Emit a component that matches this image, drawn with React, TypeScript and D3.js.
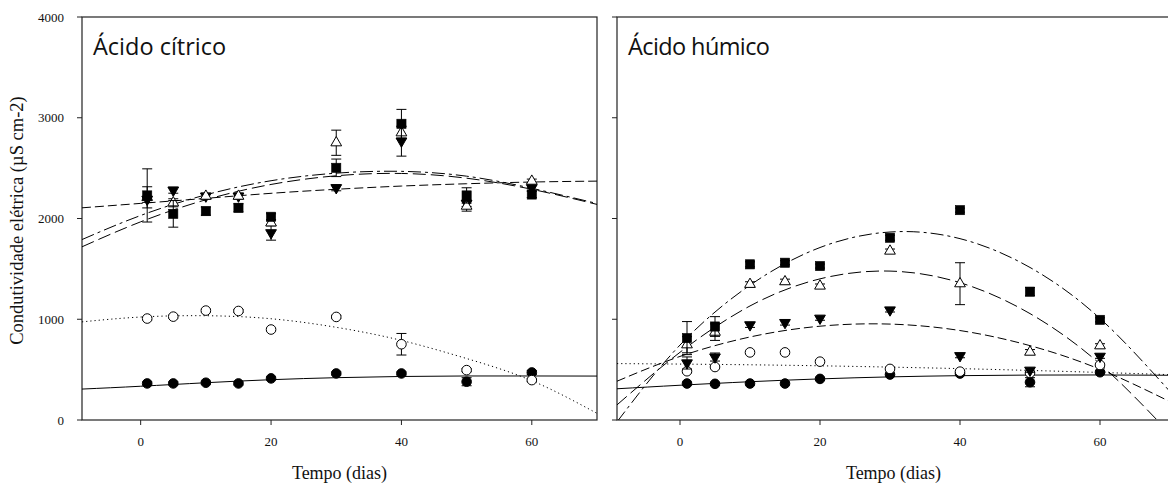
import React from 'react';
import * as d3 from 'd3';

// ---------- data ----------
const days = [1, 5, 10, 15, 20, 30, 40, 50, 60];
const xTicks = [0, 20, 40, 60];
const yTicks = [0, 1000, 2000, 3000, 4000];
const fitDays = [-9, 0, 10, 20, 30, 40, 50, 60, 70];

// Ácido cítrico
const citFilledCircle = [363, 363, 370, 363, 413, 462, 462, 380, 472];
const citFilledCircleErr = [15, 15, 15, 15, 15, 15, 15, 40, 20];
const citOpenCircle = [1007, 1026, 1086, 1082, 898, 1023, 752, 495, 396];
const citOpenCircleErr = [15, 15, 15, 15, 15, 15, 107, 15, 15];
const citTriDown = [2190, 2281, 2222, 2222, 1858, 2305, 2768, 2150, 2305];
const citTriDownErr = [30, 30, 25, 25, 73, 30, 149, 30, 25];
const citTriUp = [2210, 2156, 2222, 2222, 1957, 2752, 2851, 2123, 2371];
const citTriUpErr = [105, 40, 30, 30, 30, 125, 60, 50, 20];
const citSquare = [2229, 2046, 2073, 2106, 2017, 2503, 2940, 2229, 2238];
const citSquareErr = [264, 132, 40, 40, 30, 87, 143, 76, 30];

const citFitFilledCircle = [307, 335, 370, 400, 420, 432, 437, 437, 436];
const citFitOpenCircle = [974, 1022, 1035, 1005, 920, 790, 610, 390, 66];
const citFitTriDown = [2106, 2150, 2200, 2250, 2290, 2322, 2345, 2362, 2371];
const citFitTriUp = [1719, 1967, 2186, 2338, 2424, 2447, 2400, 2290, 2140];
const citFitSquare = [1791, 2030, 2235, 2375, 2450, 2468, 2420, 2300, 2149];

// Ácido húmico
const humFilledCircle = [362, 359, 362, 362, 408, 451, 461, 375, 474];
const humFilledCircleErr = [15, 15, 15, 15, 15, 15, 15, 45, 15];
const humOpenCircle = [484, 526, 671, 671, 579, 507, 480, 467, 546];
const humOpenCircleErr = [15, 15, 15, 15, 15, 15, 15, 15, 15];
const humTriDown = [566, 625, 944, 967, 1010, 1092, 638, 494, 632];
const humTriDownErr = [60, 40, 25, 25, 20, 20, 20, 20, 20];
const humTriUp = [747, 872, 1347, 1373, 1330, 1677, 1353, 674, 737];
const humTriUpErr = [80, 82, 25, 25, 20, 20, 208, 25, 20];
const humSquare = [813, 928, 1545, 1561, 1528, 1809, 2083, 1274, 994];
const humSquareErr = [164, 98, 25, 20, 20, 25, 20, 40, 20];

const humFitFilledCircle = [310, 345, 380, 408, 428, 440, 446, 447, 444];
const humFitOpenCircle = [560, 555, 548, 538, 525, 510, 492, 472, 450];
const humFitTriDown = [385, 631, 824, 931, 952, 888, 738, 503, 182];
const humFitTriUp = [150, 672, 1132, 1401, 1478, 1363, 1056, 556, -135];
const humFitSquare = [-19, 744, 1338, 1712, 1866, 1800, 1514, 1008, 282];

// ---------- layout / style ----------
const W = 1168;
const H = 491;
const TOP = 17;
const BOTTOM = 420;

type Marker = 'filledCircle' | 'openCircle' | 'triDown' | 'triUp' | 'square';

const DASH: Record<Marker, string> = {
  filledCircle: '',
  openCircle: '1.2,3',
  triDown: '9,4',
  triUp: '13,5',
  square: '13,4,3,4',
};

function buildSeries(vals: number[][], errs: number[][], fits: number[][]) {
  const markers: Marker[] = ['filledCircle', 'openCircle', 'triDown', 'triUp', 'square'];
  return markers.map((m, i) => ({ marker: m, values: vals[i], errs: errs[i], fit: fits[i] }));
}

const panels = [
  {
    title: 'Ácido cítrico',
    x0: 82,
    x1: 597,
    yLabels: true,
    series: buildSeries(
      [citFilledCircle, citOpenCircle, citTriDown, citTriUp, citSquare],
      [citFilledCircleErr, citOpenCircleErr, citTriDownErr, citTriUpErr, citSquareErr],
      [citFitFilledCircle, citFitOpenCircle, citFitTriDown, citFitTriUp, citFitSquare]
    ),
  },
  {
    title: 'Ácido húmico',
    x0: 617,
    x1: 1170,
    yLabels: false,
    series: buildSeries(
      [humFilledCircle, humOpenCircle, humTriDown, humTriUp, humSquare],
      [humFilledCircleErr, humOpenCircleErr, humTriDownErr, humTriUpErr, humSquareErr],
      [humFitFilledCircle, humFitOpenCircle, humFitTriDown, humFitTriUp, humFitSquare]
    ),
  },
];

const serif = '"Liberation Serif", "Times New Roman", serif';
const sans = '"Open Sans", "Noto Sans", sans-serif';

function MarkerShape({ m, cx, cy }: { m: Marker; cx: number; cy: number }) {
  if (m === 'filledCircle' || m === 'openCircle') {
    return (
      <circle cx={cx} cy={cy} r={4.8} fill={m === 'filledCircle' ? '#000' : '#fff'} stroke="#000" strokeWidth={1} />
    );
  }
  if (m === 'square') {
    return <rect x={cx - 4.6} y={cy - 4.6} width={9.2} height={9.2} fill="#000" stroke="#000" strokeWidth={0.6} />;
  }
  const path = d3.symbol().type(d3.symbolTriangle).size(50)() as string;
  const rot = m === 'triDown' ? 180 : 0;
  return (
    <path
      d={path}
      transform={`translate(${cx},${cy}) rotate(${rot})`}
      fill={m === 'triDown' ? '#000' : '#fff'}
      stroke="#000"
      strokeWidth={1}
    />
  );
}

function Panel({ p, idx }: { p: (typeof panels)[number]; idx: number }) {
  const x = d3.scaleLinear().domain([-9, 70]).range([p.x0, p.x1]);
  const y = d3.scaleLinear().domain([0, 4000]).range([BOTTOM, TOP]);
  const line = d3
    .line<[number, number]>()
    .x((d) => x(d[0]))
    .y((d) => y(d[1]))
    .curve(d3.curveNatural);
  const clipId = `clip${idx}`;
  return (
    <g>
      <defs>
        <clipPath id={clipId}>
          <rect x={p.x0} y={TOP} width={p.x1 - p.x0} height={BOTTOM - TOP} />
        </clipPath>
      </defs>
      {/* frame */}
      <rect x={p.x0} y={TOP} width={p.x1 - p.x0} height={BOTTOM - TOP} fill="none" stroke="#222" strokeWidth={1.2} />
      {/* y ticks */}
      {yTicks.map((t) => (
        <g key={'y' + t}>
          <line x1={p.x0 - 5} x2={p.x0} y1={y(t)} y2={y(t)} stroke="#222" strokeWidth={1} />
          {p.yLabels && (
            <text x={p.x0 - 18} y={y(t) + 4.5} textAnchor="end" fontFamily={serif} fontSize={13} fill="#111">
              {t}
            </text>
          )}
        </g>
      ))}
      {/* x ticks */}
      {xTicks.map((t) => (
        <g key={'x' + t}>
          <line x1={x(t)} x2={x(t)} y1={BOTTOM} y2={BOTTOM + 5} stroke="#222" strokeWidth={1} />
          <text x={x(t)} y={446} textAnchor="middle" fontFamily={serif} fontSize={13} fill="#111">
            {t}
          </text>
        </g>
      ))}
      <text x={(p.x0 + p.x1) / 2} y={479} textAnchor="middle" fontFamily={serif} fontSize={18} fill="#111">
        Tempo (dias)
      </text>
      <text
        x={p.x0 + 11}
        y={55}
        fontFamily={sans}
        fontSize={23.5}
        letterSpacing={idx === 1 ? -0.6 : 0}
        fill="#111"
      >
        {p.title}
      </text>
      {/* fitted curves */}
      <g clipPath={`url(#${clipId})`}>
        {p.series.map((s) => (
          <path
            key={'f' + s.marker}
            d={line(fitDays.map((d, i) => [d, s.fit[i]] as [number, number])) as string}
            fill="none"
            stroke="#000"
            strokeWidth={1}
            strokeDasharray={DASH[s.marker]}
          />
        ))}
      </g>
      {/* error bars and markers */}
      {p.series.map((s) => (
        <g key={'s' + s.marker}>
          {days.map((d, i) => {
            const cx = x(d);
            const yt = y(s.values[i] + s.errs[i]);
            const yb = y(s.values[i] - s.errs[i]);
            return (
              <g key={i}>
                <line x1={cx} x2={cx} y1={yt} y2={yb} stroke="#000" strokeWidth={1} />
                <line x1={cx - 5} x2={cx + 5} y1={yt} y2={yt} stroke="#000" strokeWidth={1} />
                <line x1={cx - 5} x2={cx + 5} y1={yb} y2={yb} stroke="#000" strokeWidth={1} />
              </g>
            );
          })}
          {days.map((d, i) => (
            <MarkerShape key={'m' + i} m={s.marker} cx={x(d)} cy={y(s.values[i])} />
          ))}
        </g>
      ))}
    </g>
  );
}

export default function App() {
  return (
    <svg
      width={W}
      height={H}
      viewBox={`0 0 ${W} ${H}`}
      style={{ position: 'absolute', left: 0, top: 0, background: '#fff' }}
    >
      <rect x={0} y={0} width={W} height={H} fill="#fff" />
      {panels.map((p, i) => (
        <Panel key={i} p={p} idx={i} />
      ))}
      <text
        transform={`translate(23,${(TOP + BOTTOM) / 2 + 2}) rotate(-90)`}
        textAnchor="middle"
        fontFamily={serif}
        fontSize={18.5}
        fill="#111"
      >
        Condutividade elétrica (µS cm-2)
      </text>
    </svg>
  );
}
